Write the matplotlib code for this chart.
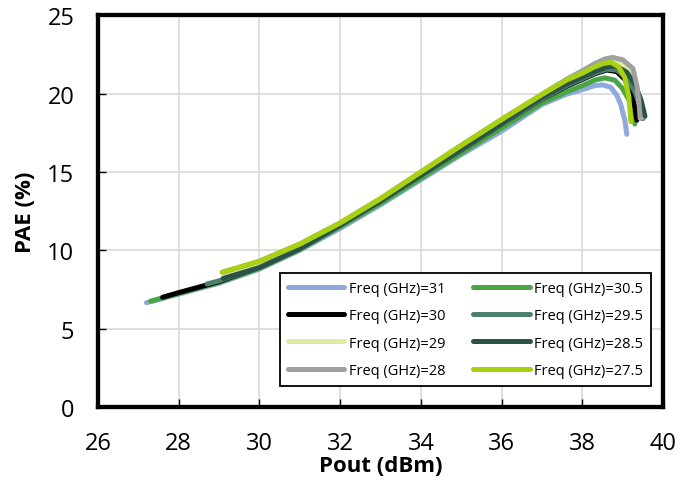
import matplotlib
matplotlib.use("Agg")
import matplotlib.pyplot as plt

plt.rcParams['font.family'] = ['Open Sans', 'DejaVu Sans']

# Pout (dBm) / PAE (%) per frequency
x_31 = [27.2, 28, 29, 30, 31, 32, 33, 34, 35, 36, 37, 37.6, 38.0, 38.3, 38.5, 38.7, 38.85, 38.95, 39.05, 39.1]
y_31 = [6.65, 7.2, 7.9, 8.8, 10.0, 11.4, 12.9, 14.5, 16.1, 17.6, 19.3, 19.95, 20.25, 20.5, 20.55, 20.4, 19.9, 19.3, 18.3, 17.4]

x_305 = [27.3, 28, 29, 30, 31, 32, 33, 34, 35, 36, 37, 37.6, 38.0, 38.3, 38.55, 38.8, 39.0, 39.15, 39.25, 39.3]
y_305 = [6.75, 7.25, 7.95, 8.85, 10.05, 11.5, 13.0, 14.6, 16.2, 17.8, 19.4, 20.1, 20.5, 20.85, 21.0, 20.85, 20.3, 19.6, 18.8, 18.05]

x_30 = [27.6, 28, 29, 30, 31, 32, 33, 34, 35, 36, 37, 37.6, 38.0, 38.3, 38.6, 38.85, 39.05, 39.2, 39.3, 39.35]
y_30 = [7.0, 7.3, 8.0, 8.95, 10.15, 11.65, 13.15, 14.8, 16.4, 18.05, 19.65, 20.45, 20.9, 21.25, 21.5, 21.4, 20.9, 20.1, 19.1, 18.3]

x_295 = [28.7, 29, 30, 31, 32, 33, 34, 35, 36, 37, 37.6, 38, 38.3, 38.6, 38.85, 39.1, 39.3, 39.45, 39.5]
y_295 = [7.85, 8.05, 8.95, 10.15, 11.6, 13.15, 14.8, 16.4, 18.05, 19.65, 20.5, 20.95, 21.3, 21.55, 21.5, 21.0, 20.1, 19.1, 18.4]

x_29 = [29.1, 30, 31, 32, 33, 34, 35, 36, 37, 37.6, 38, 38.3, 38.6, 38.8, 39.05, 39.25, 39.4, 39.48]
y_29 = [8.3, 9.0, 10.2, 11.7, 13.25, 14.9, 16.55, 18.2, 19.85, 20.75, 21.3, 21.75, 22.1, 22.2, 21.9, 21.1, 19.8, 18.5]

x_285 = [29.1, 30, 31, 32, 33, 34, 35, 36, 37, 37.6, 38, 38.3, 38.6, 38.85, 39.1, 39.3, 39.45, 39.55]
y_285 = [8.2, 8.9, 10.1, 11.6, 13.15, 14.8, 16.45, 18.1, 19.75, 20.6, 21.05, 21.4, 21.7, 21.75, 21.35, 20.6, 19.6, 18.55]

x_28 = [29.1, 30, 31, 32, 33, 34, 35, 36, 37, 37.6, 38, 38.3, 38.55, 38.75, 39.0, 39.25, 39.35, 39.4, 39.43]
y_28 = [8.6, 9.3, 10.4, 11.75, 13.3, 15.0, 16.7, 18.35, 19.95, 20.9, 21.45, 21.9, 22.2, 22.3, 22.15, 21.6, 20.5, 19.5, 18.4]

x_275 = [29.07, 30, 31, 32, 33, 34, 35, 36, 37, 37.6, 38, 38.3, 38.5, 38.7, 38.9, 39.05, 39.15, 39.2]
y_275 = [8.6, 9.3, 10.4, 11.75, 13.3, 15.0, 16.7, 18.35, 19.95, 20.85, 21.3, 21.7, 21.9, 22.0, 21.7, 21.0, 19.8, 18.2]

labels = ['Freq (GHz)=31', 'Freq (GHz)=30.5', 'Freq (GHz)=30', 'Freq (GHz)=29.5',
          'Freq (GHz)=29', 'Freq (GHz)=28.5', 'Freq (GHz)=28', 'Freq (GHz)=27.5']
colors = ['#8EA9DB', '#4AA544', '#000000', '#4E7F6B',
          '#DCEDA0', '#2A5247', '#A0A0A0', '#A8D10F']
xs = [x_31, x_305, x_30, x_295, x_29, x_285, x_28, x_275]
ys = [y_31, y_305, y_30, y_295, y_29, y_285, y_28, y_275]

fig = plt.figure(figsize=(6.76, 4.89), dpi=100)
ax = fig.add_axes([0.145, 0.1656, 0.836, 0.8014])

lines = []
for x, y, c, lab in zip(xs, ys, colors, labels):
    ln, = ax.plot(x, y, color=c, lw=3.6, label=lab,
                  solid_capstyle='round', solid_joinstyle='round')
    lines.append(ln)

ax.set_xlim(26, 40)
ax.set_ylim(0, 25)
ax.set_xticks(range(26, 41, 2))
ax.set_yticks(range(0, 26, 5))
ax.grid(True, color='#D9D9D9', lw=1.2)
ax.set_axisbelow(True)
for s in ax.spines.values():
    s.set_linewidth(3.1)
    s.set_color('black')
    s.set_capstyle('projecting')
ax.tick_params(direction='in', length=6, width=1, labelsize=17, pad=17)
ax.set_xlabel('Pout (dBm)', fontsize=16, fontweight='bold', labelpad=0)
ax.set_ylabel('PAE (%)', fontsize=16, fontweight='bold', labelpad=8)

# row-wise legend: first column 31,30,29,28 ; second 30.5,29.5,28.5,27.5
order = [0, 2, 4, 6, 1, 3, 5, 7]
leg = ax.legend([lines[i] for i in order], [labels[i] for i in order],
                ncol=2, loc='lower right', bbox_to_anchor=(0.979, 0.054),
                borderaxespad=0, fontsize=10.5, handlelength=3.9,
                labelspacing=0.84, columnspacing=1.9, handletextpad=0.3,
                borderpad=0.55, fancybox=False, framealpha=1)
leg.get_frame().set_edgecolor('black')
leg.get_frame().set_linewidth(1.3)

fig.savefig('out.png', dpi=100)
